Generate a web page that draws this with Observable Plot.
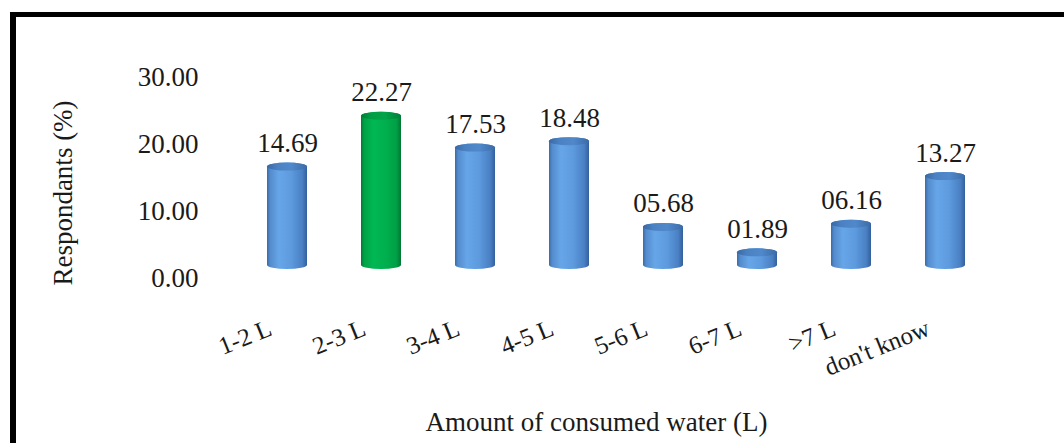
<!DOCTYPE html>
<html>
<head>
<meta charset="utf-8">
<script src="https://cdn.jsdelivr.net/npm/d3@7"></script>
<script src="https://cdn.jsdelivr.net/npm/@observablehq/plot@0.6"></script>
<style>
  html, body { margin: 0; padding: 0; background: #fff; }
  #wrap { position: relative; width: 1064px; height: 443px; overflow: hidden; background: #fff; }
  #wrap svg { position: absolute; left: 0; top: 0; font-family: 'Liberation Serif', 'Times New Roman', serif; }
  #wrap svg text { font-family: 'Liberation Serif', 'Times New Roman', serif; }
  #wrap .border {
    position: absolute; left: 10px; top: 12px; width: 1100px; height: 480px;
    border-top: 5px solid #000; border-left: 6px solid #000;
    pointer-events: none;
  }
</style>
</head>
<body>
<div id="wrap"></div>
<script>
// Daily amount of drinking water reported by respondents
const categories = ["1-2 L", "2-3 L", "3-4 L", "4-5 L", "5-6 L", "6-7 L", ">7 L", "don't know"];
const respondents = [14.69, 22.27, 17.53, 18.48, 5.68, 1.89, 6.16, 13.27];
const highlighted = ["2-3 L"];
const yTicks = [0, 10, 20, 30];
const yLabel = "Respondants (%)";
const xLabel = "Amount of consumed water (L)";

const data = categories.map((category, i) => ({category, value: respondents[i]}));
const normal = data.filter(d => !highlighted.includes(d.category));
const accent = data.filter(d => highlighted.includes(d.category));

const serif = "'Liberation Serif', 'Times New Roman', serif";
const ink = "#1a1a1a";
const fmtValue = d3.format("05.2f");
const fmtTick = d3.format(".2f");

// gradients giving the columns a cylindrical look
function gradients() {
  const defs = d3.create("svg:defs");
  const add = (id, stops) => {
    const g = defs.append("linearGradient").attr("id", id)
      .attr("x1", "0").attr("x2", "1").attr("y1", "0").attr("y2", "0");
    stops.forEach(([o, c]) => g.append("stop").attr("offset", o).attr("stop-color", c));
  };
  add("bodyBlue", [[0, "#3d6aa6"], [0.08, "#548ccd"], [0.3, "#66a6e8"], [0.6, "#5d9ade"], [0.88, "#4a80c4"], [1, "#33609b"]]);
  add("capBlue", [[0, "#3a67a3"], [0.25, "#4a81c3"], [0.6, "#5089cb"], [1, "#3c6ba8"]]);
  add("bodyGreen", [[0, "#007a35"], [0.08, "#00a246"], [0.3, "#00b853"], [0.6, "#00b04f"], [0.88, "#00a046"], [1, "#007734"]]);
  add("capGreen", [[0, "#007d36"], [0.25, "#009e44"], [0.6, "#00a449"], [1, "#008038"]]);
  return defs.node();
}

const half = 20;   // half the column width, for the elliptical ends
const ell = 4;     // vertical radius of the elliptical ends

const columns = (rows, body, cap) => [
  Plot.barY(rows, {
    x: "category", y1: 0, y2: "value",
    insetTop: -ell, insetBottom: -ell, rx: half, ry: ell,
    fill: body
  }),
  Plot.barY(rows, {
    x: "category", y1: "value", y2: "value",
    insetTop: -ell, insetBottom: -ell, rx: half, ry: ell,
    fill: cap
  })
];

const chart = Plot.plot({
  width: 1064,
  height: 443,
  marginLeft: 240,
  marginRight: 72,
  marginTop: 64,
  marginBottom: 178,
  style: {fontFamily: serif, color: ink, background: "#fff"},
  x: {type: "band", domain: categories, paddingInner: 0.574, paddingOuter: 0.287, axis: null},
  y: {domain: [0, 30], axis: null},
  marks: [
    gradients,
    Plot.axisY({
      ticks: yTicks, tickFormat: fmtTick, tickSize: 0, tickPadding: 42,
      dy: 13, fontSize: 27, fontFamily: serif, label: null, fill: ink
    }),
    ...columns(normal, "url(#bodyBlue)", "url(#capBlue)"),
    ...columns(accent, "url(#bodyGreen)", "url(#capGreen)"),
    Plot.text(data, {
      x: "category", y: "value", text: d => fmtValue(d.value),
      dy: -15, lineAnchor: "bottom", fontSize: 27, fontFamily: serif, fill: ink
    }),
    Plot.text(data, {
      x: "category", frameAnchor: "bottom", text: "category",
      rotate: -22, textAnchor: "end", lineAnchor: "bottom",
      dx: -14, dy: 69, fontSize: 25, fontFamily: serif, fill: ink
    }),
    Plot.text([yLabel], {
      frameAnchor: "left", text: d => d, rotate: -90,
      textAnchor: "middle", lineAnchor: "middle",
      dx: -177, dy: 28, fontSize: 27, fontFamily: serif, fill: ink
    }),
    Plot.text([xLabel], {
      frameAnchor: "bottom", text: d => d,
      textAnchor: "middle", lineAnchor: "middle",
      dx: -20, dy: 157, fontSize: 27, fontFamily: serif, fill: ink
    })
  ]
});

const wrap = document.getElementById("wrap");
wrap.appendChild(chart);
const border = document.createElement("div");
border.className = "border";
wrap.appendChild(border);
</script>
</body>
</html>
